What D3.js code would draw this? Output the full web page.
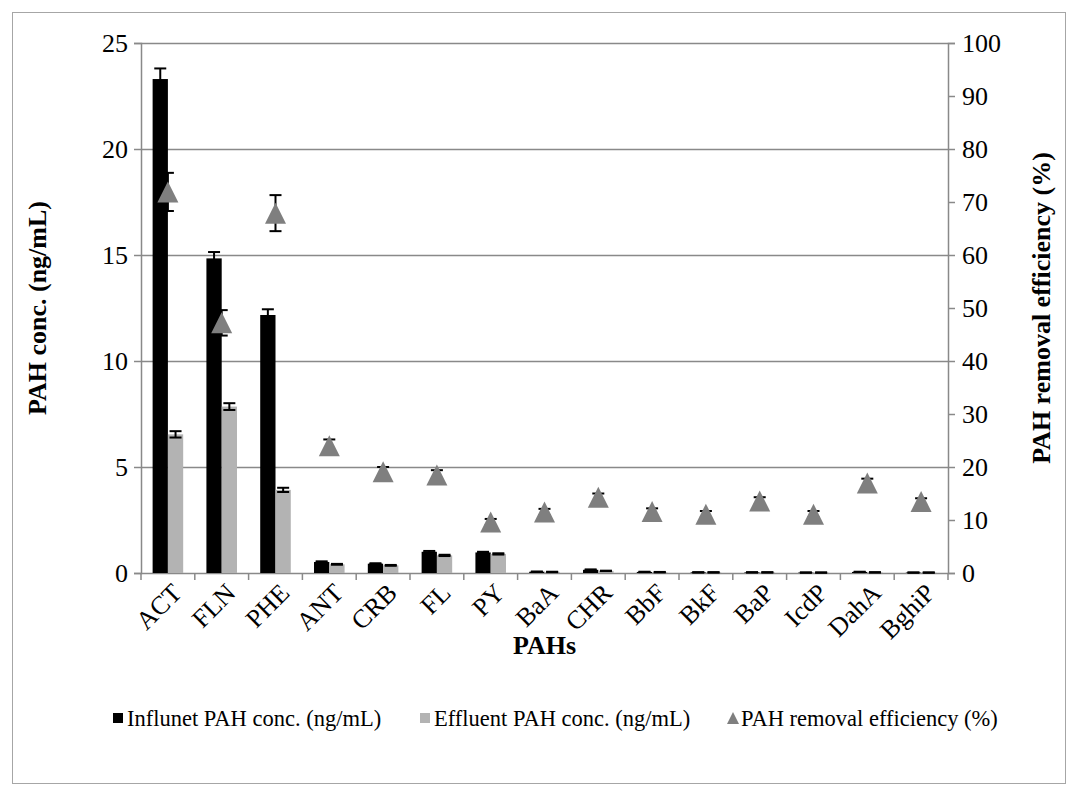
<!DOCTYPE html>
<html>
<head>
<meta charset="utf-8">
<script src="https://cdn.jsdelivr.net/npm/d3@7"></script>
<style>
  body { margin: 0; background: #fff; }
  svg text { font-family: "Liberation Serif", "DejaVu Serif", serif !important; }
</style>
</head>
<body>
<div id="chart"></div>
<script>
const categories = ["ACT", "FLN", "PHE", "ANT", "CRB", "FL", "PY", "BaA", "CHR", "BbF", "BkF", "BaP", "IcdP", "DahA", "BghiP"];
const influent = [23.3, 14.84, 12.17, 0.52, 0.44, 1.0, 0.97, 0.06, 0.15, 0.05, 0.03, 0.03, 0.02, 0.05, 0.02];
const influentErr = [0.5, 0.3, 0.27, 0.03, 0.02, 0.04, 0.03, 0.01, 0.02, 0.01, 0.01, 0.01, 0.01, 0.01, 0.01];
const effluent = [6.54, 7.85, 3.92, 0.41, 0.36, 0.83, 0.9, 0.05, 0.1, 0.04, 0.03, 0.03, 0.02, 0.03, 0.02];
const effluentErr = [0.15, 0.16, 0.1, 0.02, 0.02, 0.03, 0.03, 0.01, 0.01, 0.01, 0.01, 0.01, 0.01, 0.01, 0.01];
const removal = [71.9, 47.2, 67.9, 24.0, 19.1, 18.5, 9.6, 11.5, 14.3, 11.6, 11.1, 13.6, 11.1, 17.0, 13.5];
const removalErr = [3.6, 2.4, 3.4, 1.2, 0.9, 0.9, 0.6, 0.6, 0.7, 0.6, 0.6, 0.7, 0.6, 0.8, 0.6];
const leftTicks = [0, 5, 10, 15, 20, 25];
const rightTicks = [0, 10, 20, 30, 40, 50, 60, 70, 80, 90, 100];

const width = 1078;
const height = 796;
const plot = { left: 141, right: 948, top: 43, bottom: 573 };
const gridColor = "#898989";
const serif = '"Liberation Serif", "DejaVu Serif", serif';

const svg = d3
  .select("#chart")
  .append("svg")
  .attr("width", width)
  .attr("height", height)
  .attr("font-family", serif);

svg
  .append("rect")
  .attr("x", 0)
  .attr("y", 0)
  .attr("width", width)
  .attr("height", height)
  .attr("fill", "#fff");

// chart frame
svg
  .append("rect")
  .attr("x", 12.5)
  .attr("y", 12.5)
  .attr("width", 1053)
  .attr("height", 771)
  .attr("fill", "none")
  .attr("stroke", "#a6a6a6")
  .attr("stroke-width", 1);

const x = d3
  .scaleBand()
  .domain(categories)
  .range([plot.left, plot.right]);

const xSub = d3
  .scaleBand()
  .domain(["inf", "eff"])
  .range([0, x.bandwidth()])
  .paddingOuter(0.76);

const yLeft = d3.scaleLinear().domain([0, 25]).range([plot.bottom, plot.top]);
const yRight = d3.scaleLinear().domain([0, 100]).range([plot.bottom, plot.top]);

// gridlines
svg
  .append("g")
  .selectAll("line")
  .data(leftTicks.slice(1))
  .enter()
  .append("line")
  .attr("x1", plot.left)
  .attr("x2", plot.right)
  .attr("y1", (d) => Math.round(yLeft(d)) + 0.5)
  .attr("y2", (d) => Math.round(yLeft(d)) + 0.5)
  .attr("stroke", gridColor)
  .attr("stroke-width", 1.5);

// left axis
const leftAxis = svg
  .append("g")
  .attr("transform", `translate(${plot.left}, 0)`)
  .call(d3.axisLeft(yLeft).tickValues(leftTicks).tickSize(7).tickPadding(6));

// right axis
const rightAxis = svg
  .append("g")
  .attr("transform", `translate(${plot.right}, 0)`)
  .call(d3.axisRight(yRight).tickValues(rightTicks).tickSize(7).tickPadding(7));

// bottom axis: ticks between categories
const bottomAxis = svg.append("g");
bottomAxis
  .append("line")
  .attr("x1", plot.left)
  .attr("x2", plot.right)
  .attr("y1", plot.bottom + 0.5)
  .attr("y2", plot.bottom + 0.5)
  .attr("stroke", gridColor)
  .attr("stroke-width", 1.5);
bottomAxis
  .selectAll(".xtick")
  .data(categories.concat([null]))
  .enter()
  .append("line")
  .attr("class", "xtick")
  .attr("x1", (d) => (d ? x(d) : plot.right))
  .attr("x2", (d) => (d ? x(d) : plot.right))
  .attr("y1", plot.bottom)
  .attr("y2", plot.bottom + 7)
  .attr("stroke", gridColor)
  .attr("stroke-width", 1.5);

bottomAxis
  .selectAll(".xlabel")
  .data(categories)
  .enter()
  .append("text")
  .attr("class", "xlabel")
  .attr("text-anchor", "end")
  .attr("font-size", 26)
  .attr("transform", (d) => `translate(${x(d) + x.bandwidth() / 2 + 9}, 588) rotate(-45)`)
  .attr("dy", "0.35em")
  .text((d) => d);

[leftAxis, rightAxis].forEach((axis) => {
  axis.attr("font-family", serif).attr("font-size", 26);
  axis.select(".domain").attr("stroke", gridColor).attr("stroke-width", 1.5);
  axis.selectAll(".tick line").attr("stroke", gridColor).attr("stroke-width", 1.5);
  axis.selectAll(".tick text").attr("fill", "#000");
});

// bars
const bars = svg.append("g");
bars
  .selectAll(".inf")
  .data(influent)
  .enter()
  .append("rect")
  .attr("x", (d, i) => x(categories[i]) + xSub("inf"))
  .attr("y", (d) => yLeft(d))
  .attr("width", xSub.bandwidth())
  .attr("height", (d) => yLeft(0) - yLeft(d))
  .attr("fill", "#000");

bars
  .selectAll(".eff")
  .data(effluent)
  .enter()
  .append("rect")
  .attr("x", (d, i) => x(categories[i]) + xSub("eff"))
  .attr("y", (d) => yLeft(d))
  .attr("width", xSub.bandwidth())
  .attr("height", (d) => yLeft(0) - yLeft(d))
  .attr("fill", "#b3b3b3");

// error bars
const drawErr = (cx, yTop, yBot, cap) => {
  const g = svg.append("g").attr("stroke", "#000").attr("stroke-width", 2);
  g.append("line").attr("x1", cx).attr("x2", cx).attr("y1", yTop).attr("y2", yBot);
  g.append("line").attr("x1", cx - cap).attr("x2", cx + cap).attr("y1", yTop).attr("y2", yTop);
  g.append("line").attr("x1", cx - cap).attr("x2", cx + cap).attr("y1", yBot).attr("y2", yBot);
};

influent.forEach((d, i) => {
  const cx = x(categories[i]) + xSub("inf") + xSub.bandwidth() / 2;
  drawErr(cx, yLeft(d + influentErr[i]), yLeft(d - influentErr[i]), 6);
});
effluent.forEach((d, i) => {
  const cx = x(categories[i]) + xSub("eff") + xSub.bandwidth() / 2;
  drawErr(cx, yLeft(d + effluentErr[i]), yLeft(d - effluentErr[i]), 6);
});
removal.forEach((d, i) => {
  const cx = x(categories[i]) + x.bandwidth() / 2;
  drawErr(cx, yRight(d + removalErr[i]), yRight(d - removalErr[i]), 6);
});

// triangle markers
const tri = (cx, cy, s) =>
  `M${cx},${cy - s / 2}L${cx + s / 2},${cy + s / 2}L${cx - s / 2},${cy + s / 2}Z`;

svg
  .append("g")
  .selectAll("path")
  .data(removal)
  .enter()
  .append("path")
  .attr("d", (d, i) => tri(x(categories[i]) + x.bandwidth() / 2, yRight(d), 21))
  .attr("fill", "#7f7f7f");

// axis titles
svg
  .append("text")
  .attr("transform", `translate(46, ${(plot.top + plot.bottom) / 2}) rotate(-90)`)
  .attr("text-anchor", "middle")
  .attr("font-size", 26)
  .attr("font-weight", "bold")
  .text("PAH conc. (ng/mL)");

svg
  .append("text")
  .attr("transform", `translate(1050, ${(plot.top + plot.bottom) / 2}) rotate(-90)`)
  .attr("text-anchor", "middle")
  .attr("font-size", 26)
  .attr("font-weight", "bold")
  .text("PAH removal efficiency (%)");

svg
  .append("text")
  .attr("x", (plot.left + plot.right) / 2)
  .attr("y", 654)
  .attr("text-anchor", "middle")
  .attr("font-size", 26)
  .attr("font-weight", "bold")
  .text("PAHs");

// legend
const legendItems = [
  { label: "Influnet PAH conc. (ng/mL)", color: "#000", shape: "rect", x: 113 },
  { label: "Effluent PAH conc. (ng/mL)", color: "#b3b3b3", shape: "rect", x: 420 },
  { label: "PAH removal efficiency (%)", color: "#7f7f7f", shape: "tri", x: 727 },
];
const legendY = 718;
const legend = svg.append("g");
legendItems.forEach((item) => {
  if (item.shape === "rect") {
    legend
      .append("rect")
      .attr("x", item.x)
      .attr("y", legendY - 5)
      .attr("width", 10)
      .attr("height", 10)
      .attr("fill", item.color);
  } else {
    legend
      .append("path")
      .attr("d", tri(item.x + 6, legendY, 12))
      .attr("fill", item.color);
  }
  legend
    .append("text")
    .attr("x", item.x + 14)
    .attr("y", legendY)
    .attr("dy", "0.35em")
    .attr("font-size", 22.5)
    .text(item.label);
});
</script>
</body>
</html>
